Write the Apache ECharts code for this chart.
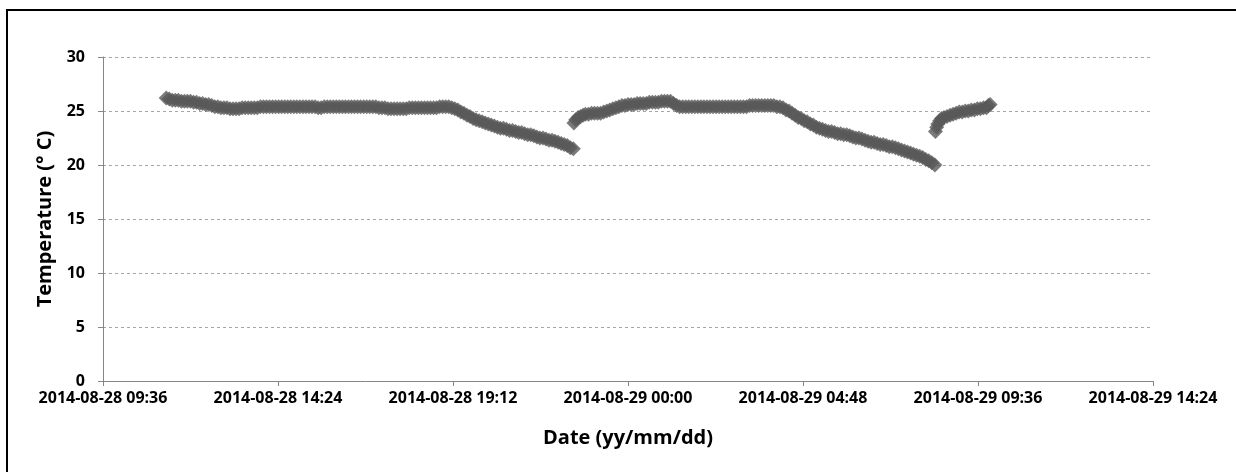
<!DOCTYPE html>
<html>
<head>
<meta charset="utf-8">
<script src="https://cdn.jsdelivr.net/npm/echarts@6/dist/echarts.min.js"></script>
<style>
html,body{margin:0;padding:0;background:#fff;}
#c{width:1236px;height:472px;}
</style>
</head>
<body>
<div id="c"></div>
<script>
const day1 = '2014-08-28';
const day2 = '2014-08-29';

// Segment 1 (day1)
const times1 = [
'11:20','11:25','11:30','11:35','11:40','11:45','11:50','11:55',
'12:00','12:05','12:10','12:15','12:20','12:25','12:30','12:35','12:40','12:45','12:50','12:55',
'13:00','13:05','13:10','13:15','13:20','13:25','13:30','13:35','13:40','13:45','13:50','13:55',
'14:00','14:05','14:10','14:15','14:20','14:25','14:30','14:35','14:40','14:45','14:50','14:55',
'15:00','15:05','15:10','15:15','15:20','15:25','15:30','15:35','15:40','15:45','15:50','15:55',
'16:00','16:05','16:10','16:15','16:20','16:25','16:30','16:35','16:40','16:45','16:50','16:55',
'17:00','17:05','17:10','17:15','17:20','17:25','17:30','17:35','17:40','17:45','17:50','17:55',
'18:00','18:05','18:10','18:15','18:20','18:25','18:30','18:35','18:40','18:45','18:50','18:55',
'19:00','19:05','19:10','19:15','19:20','19:25','19:30','19:35','19:40','19:45','19:50','19:55',
'20:00','20:05','20:10','20:15','20:20','20:25','20:30','20:35','20:40','20:45','20:50','20:55',
'21:00','21:05','21:10','21:15','21:20','21:25','21:30','21:35','21:40','21:45','21:50','21:55',
'22:00','22:05','22:10','22:15','22:20','22:25','22:30'];
const temps1 = [
26.2,26.1,26.0,26.0,26.0,25.9,25.9,25.9,
25.9,25.8,25.8,25.7,25.7,25.6,25.6,25.5,25.4,25.4,25.3,25.3,
25.3,25.2,25.2,25.2,25.2,25.3,25.3,25.3,25.3,25.3,25.3,25.4,
25.4,25.4,25.4,25.4,25.4,25.4,25.4,25.4,25.4,25.4,25.4,25.4,
25.4,25.4,25.4,25.4,25.4,25.4,25.3,25.3,25.4,25.4,25.4,25.4,
25.4,25.4,25.4,25.4,25.4,25.4,25.4,25.4,25.4,25.4,25.4,25.4,
25.4,25.4,25.3,25.3,25.3,25.2,25.2,25.2,25.2,25.2,25.2,25.2,
25.3,25.3,25.3,25.3,25.3,25.3,25.3,25.3,25.3,25.3,25.4,25.4,
25.4,25.4,25.3,25.2,25.1,24.9,24.8,24.6,24.5,24.3,24.2,24.1,
24.0,23.9,23.8,23.7,23.6,23.5,23.4,23.4,23.3,23.2,23.2,23.1,
23.0,23.0,22.9,22.8,22.8,22.7,22.6,22.5,22.5,22.4,22.3,22.3,
22.2,22.1,22.0,21.9,21.8,21.6,21.5];

// Segment 2, part on day1
const times2a = ['22:31','22:34','22:38','22:42','22:46','22:50','22:55',
'23:00','23:05','23:10','23:15','23:20','23:25','23:30','23:35','23:40','23:45','23:50','23:55'];
const temps2a = [23.9,24.2,24.4,24.5,24.6,24.7,24.7,
24.8,24.8,24.8,24.8,24.9,25.0,25.1,25.2,25.3,25.4,25.5,25.5];

// Segment 2, part on day2
const times2b = [
'00:00','00:05','00:10','00:15','00:20','00:25','00:30','00:35','00:40','00:45','00:50','00:55',
'01:00','01:05','01:10','01:15','01:20','01:25','01:30','01:35','01:40','01:45','01:50','01:55',
'02:00','02:05','02:10','02:15','02:20','02:25','02:30','02:35','02:40','02:45','02:50','02:55',
'03:00','03:05','03:10','03:15','03:20','03:25','03:30','03:35','03:40','03:45','03:50','03:55',
'04:00','04:05','04:10','04:15','04:20','04:25','04:30','04:35','04:40','04:45','04:50','04:55',
'05:00','05:05','05:10','05:15','05:20','05:25','05:30','05:35','05:40','05:45','05:50','05:55',
'06:00','06:05','06:10','06:15','06:20','06:25','06:30','06:35','06:40','06:45','06:50','06:55',
'07:00','07:05','07:10','07:15','07:20','07:25','07:30','07:35','07:40','07:45','07:50','07:55',
'08:00','08:05','08:10','08:15','08:20','08:25'];
const temps2b = [
25.6,25.6,25.6,25.7,25.7,25.7,25.7,25.8,25.8,25.8,25.8,25.9,
25.9,25.9,25.9,25.7,25.5,25.4,25.4,25.4,25.4,25.4,25.4,25.4,
25.4,25.4,25.4,25.4,25.4,25.4,25.4,25.4,25.4,25.4,25.4,25.4,
25.4,25.4,25.4,25.4,25.5,25.5,25.5,25.5,25.5,25.5,25.5,25.5,
25.5,25.4,25.4,25.3,25.1,25.0,24.8,24.6,24.4,24.3,24.1,24.0,
23.8,23.7,23.5,23.4,23.3,23.2,23.1,23.1,23.0,22.9,22.9,22.8,
22.8,22.7,22.6,22.5,22.5,22.4,22.3,22.2,22.1,22.1,22.0,21.9,
21.9,21.8,21.7,21.7,21.6,21.5,21.4,21.3,21.2,21.1,21.0,20.9,
20.8,20.7,20.5,20.4,20.2,20.0];

// Segment 3 (day2)
const times3 = ['08:26','08:28','08:30','08:33','08:36','08:40','08:45','08:50','08:55',
'09:00','09:05','09:10','09:15','09:20','09:25','09:30','09:35','09:40','09:45','09:50','09:53','09:56'];
const temps3 = [23.1,23.5,23.8,24.1,24.3,24.4,24.5,24.6,24.7,
24.8,24.9,24.9,25.0,25.0,25.1,25.1,25.2,25.2,25.3,25.3,25.5,25.6];

const xMinLabel = '2014-08-28 09:36';
const xMaxLabel = '2014-08-29 14:24';
const yTicks = [0,5,10,15,20,25,30];

function parseT(s){
  const [d,h]=s.split(' ');
  const [Y,M,D]=d.split('-').map(Number);
  const [hh,mm]=h.split(':').map(Number);
  return Date.UTC(Y,M-1,D,hh,mm);
}
function pad(n){return (n<10?'0':'')+n;}
function fmt(v){
  const d=new Date(v);
  return d.getUTCFullYear()+'-'+pad(d.getUTCMonth()+1)+'-'+pad(d.getUTCDate())+' '+pad(d.getUTCHours())+':'+pad(d.getUTCMinutes());
}
const data=[];
[[day1,times1,temps1],[day1,times2a,temps2a],[day2,times2b,temps2b],[day2,times3,temps3]].forEach(([day,t,v])=>{
  t.forEach((s,i)=>data.push([parseT(day+' '+s),v[i]]));
});

const chart=echarts.init(document.getElementById('c'));
const F='"Open Sans", sans-serif';
chart.setOption({
  animation:false,
  backgroundColor:'#fff',
  graphic:[{type:'rect',silent:true,shape:{x:7,y:10,width:1400,height:700},style:{fill:'none',stroke:'#000',lineWidth:2}}],
  grid:{left:103,right:83,top:57,bottom:91,containLabel:false},
  xAxis:{
    type:'value',
    min:parseT(xMinLabel),max:parseT(xMaxLabel),interval:4.8*3600*1000,
    name:'Date (yy/mm/dd)',nameLocation:'middle',nameGap:47,
    nameTextStyle:{fontFamily:F,fontWeight:'bold',fontSize:20,color:'#000'},
    axisLine:{lineStyle:{color:'#868686',width:1}},
    axisTick:{show:true,length:5,lineStyle:{color:'#868686'}},
    axisLabel:{formatter:fmt,fontFamily:F,fontWeight:'bold',fontSize:16,color:'#000',margin:9,showMinLabel:true,showMaxLabel:true},
    splitLine:{show:false}
  },
  yAxis:{
    type:'value',min:yTicks[0],max:yTicks[yTicks.length-1],interval:5,
    name:'Temperature (° C)',nameLocation:'middle',nameGap:48,nameRotate:90,
    nameTextStyle:{fontFamily:F,fontWeight:'bold',fontSize:20,color:'#000'},
    axisLine:{show:true,lineStyle:{color:'#868686',width:1}},
    axisTick:{show:true,length:5,lineStyle:{color:'#868686'}},
    axisLabel:{fontFamily:F,fontWeight:'bold',fontSize:16,color:'#000',margin:18},
    splitLine:{show:true,lineStyle:{color:'#a6a6a6',type:[3,3],width:1}}
  },
  series:[{
    type:'scatter',data:data,symbol:'diamond',symbolSize:15,
    itemStyle:{color:'#595959'}
  }]
});
</script>
</body>
</html>
